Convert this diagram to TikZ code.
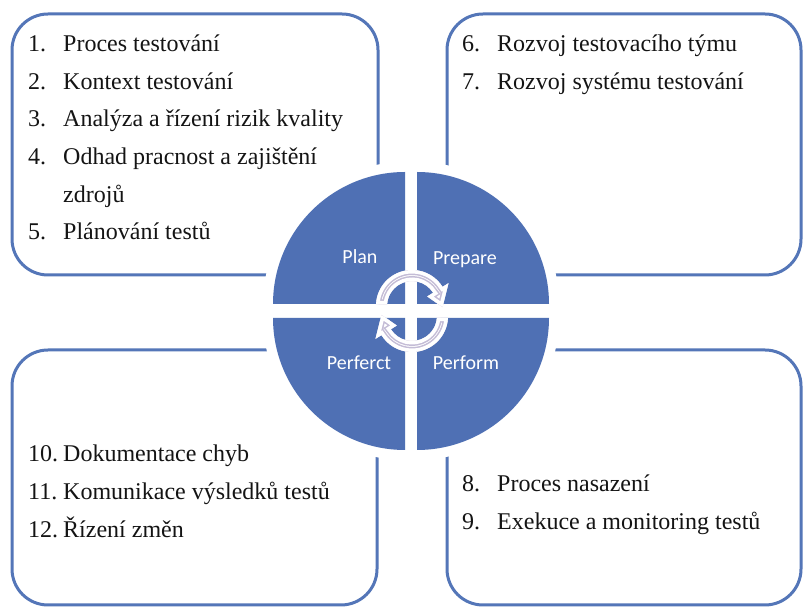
\documentclass[tikz,border=0pt]{standalone}
\usepackage{fontspec}
\setmainfont{Liberation Serif}
\newfontfamily\labelfont{Carlito}
\definecolor{quadblue}{RGB}{79,112,180}
\definecolor{frameblue}{RGB}{84,118,184}
\definecolor{arrowline}{RGB}{196,188,214}
\newcommand\itemnum[1]{\makebox[35pt][l]{#1}}
\def\arrowshape{(177:36) arc[start angle=177,end angle=32,radius=36] -- (32:43) -- (-2:30.5) -- (32:18) -- (32:25) arc[start angle=32,end angle=177,radius=25] -- cycle}
\tikzset{
  frame/.style={draw=frameblue, line width=3pt, rounded corners=36pt},
  item/.style={anchor=base west, inner sep=0pt, text=black!92, font=\fontsize{24}{28}\selectfont},
  quad/.style={fill=quadblue},
  halo/.style={draw=white, line width=20pt, line join=round},
  qlabel/.style={anchor=base, inner sep=0pt, text=white, font=\labelfont\fontsize{20}{24}\selectfont},
  cyclearrow/.pic={
    \begin{scope}
      \clip \arrowshape;
      \fill[white] (-50,-50) rectangle (50,50);
      \draw[arrowline, line width=10pt] \arrowshape;
      \draw[white, line width=7pt] \arrowshape;
    \end{scope}
  }
}
\begin{document}
\begin{tikzpicture}[x=1pt,y=1pt]
\useasboundingbox (0,0) rectangle (804,608);
\fill[white] (0,0) rectangle (804,608);

% rounded frames of the four phases
\draw[frame] (12,333) rectangle (378,594);
\draw[frame] (447,333) rectangle (801,594);
\draw[frame] (12,3) rectangle (377,258);
\draw[frame] (447,3) rectangle (801,258);

% white halo round the quarter discs
\draw[halo] (405,304) -- ++(-132,0) arc[start angle=180,end angle=90,radius=132] -- cycle;
\draw[halo] (417,304) -- ++(0,132) arc[start angle=90,end angle=0,radius=132] -- cycle;
\draw[halo] (417,290) -- ++(132,0) arc[start angle=0,end angle=-90,radius=132] -- cycle;
\draw[halo] (405,290) -- ++(0,-132) arc[start angle=270,end angle=180,radius=132] -- cycle;

% quarter discs
\fill[quad] (405,304) -- ++(-132,0) arc[start angle=180,end angle=90,radius=132] -- cycle;
\fill[quad] (417,304) -- ++(0,132) arc[start angle=90,end angle=0,radius=132] -- cycle;
\fill[quad] (417,290) -- ++(132,0) arc[start angle=0,end angle=-90,radius=132] -- cycle;
\fill[quad] (405,290) -- ++(0,-132) arc[start angle=270,end angle=180,radius=132] -- cycle;

\node[qlabel] (plan) at (360,344.7) {Plan};
\node[qlabel] (prepare) at (465,343) {Prepare};
\node[qlabel] (perferct) at (359,238) {Perferct};
\node[qlabel] (perform) at (466,238) {Perform};

% cycle arrows
\pic (arrowtop) at (412,302) {cyclearrow};
\pic[rotate=180] (arrowbottom) at (412,292) {cyclearrow};

% Plan
\node[item] (i1) at (28,556.5) {\itemnum{1.}Proces testování};
\node[item] (i2) at (28,518.5) {\itemnum{2.}Kontext testování};
\node[item] (i3) at (28,481) {\itemnum{3.}Analýza a řízení rizik kvality};
\node[item] (i4) at (28,443) {\itemnum{4.}Odhad pracnost a zajištění};
\node[item] (i4b) at (63,405.5) {zdrojů};
\node[item] (i5) at (28,368) {\itemnum{5.}Plánování testů};

% Prepare
\node[item] (i6) at (462,556.5) {\itemnum{6.}Rozvoj testovacího týmu};
\node[item] (i7) at (462,518.5) {\itemnum{7.}Rozvoj systému testování};

% Perform
\node[item] (i8) at (462,116.3) {\itemnum{8.}Proces nasazení};
\node[item] (i9) at (462,78) {\itemnum{9.}Exekuce a monitoring testů};

% Perfect
\node[item] (i10) at (28,146.3) {\itemnum{10.}Dokumentace chyb};
\node[item] (i11) at (28,108) {\itemnum{11.}Komunikace výsledků testů};
\node[item] (i12) at (28,70.7) {\itemnum{12.}Řízení změn};
\end{tikzpicture}
\end{document}
